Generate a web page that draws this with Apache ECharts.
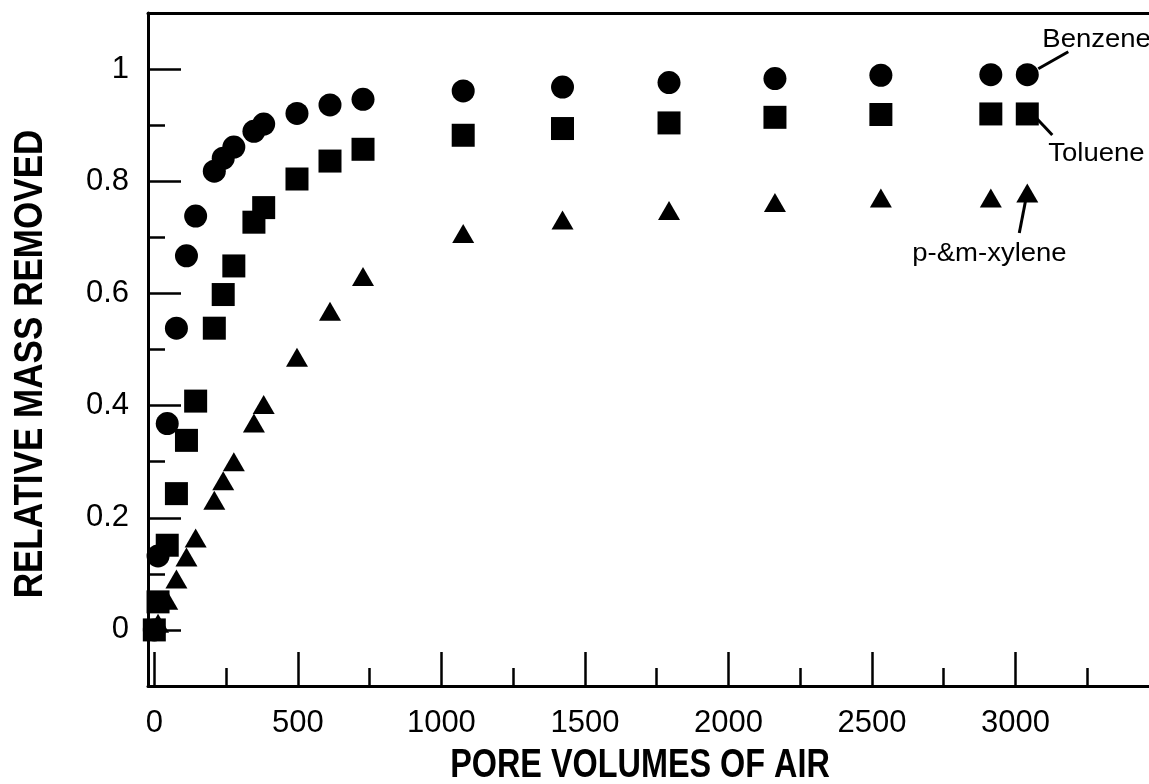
<!DOCTYPE html>
<html><head><meta charset="utf-8">
<script src="https://cdn.jsdelivr.net/npm/echarts@6/dist/echarts.min.js"></script>
<style>html,body{margin:0;padding:0;background:#fff}#c{width:1149px;height:784px}</style>
</head><body><div id="c"></div>
<script>
const poreVolumes = [0,13,45,77,112,144,209,240,277,347,381,497,612,727,1076,1422,1793,2162,2531,2914,3041];
const benzene = [0,0.132,0.368,0.538,0.667,0.738,0.818,0.841,0.861,0.889,0.902,0.921,0.936,0.946,0.961,0.968,0.976,0.983,0.989,0.990,0.990];
const toluene = [0,0.05,0.151,0.243,0.338,0.408,0.538,0.598,0.649,0.727,0.753,0.804,0.836,0.857,0.882,0.894,0.904,0.914,0.919,0.920,0.920];
const xylene = [0,0.012,0.053,0.091,0.130,0.164,0.231,0.266,0.300,0.369,0.402,0.486,0.568,0.630,0.707,0.731,0.748,0.762,0.770,0.770,0.779];
const xMajorTicks = [0,500,1000,1500,2000,2500,3000];
const xMinorTicks = [250,750,1250,1750,2250,2750,3250];
const yMajorTicks = [0,0.2,0.4,0.6,0.8,1];
const yMinorTicks = [0.1,0.3,0.5,0.7,0.9];
const seriesNames = ['Benzene','Toluene','p-&m-xylene'];
const xTitle = 'PORE VOLUMES OF AIR';
const yTitle = 'RELATIVE MASS REMOVED';

const X_MIN = -22, X_MAX = 3465, Y_MIN = -0.1, Y_MAX = 1.1;
const BLACK = '#000';
const FONT = 'Liberation Sans';
const line = {color: BLACK, width: 3};
const tickStyle = {color: BLACK, width: 2.5};
const plain = v => String(v);

function pairs(ys){ return poreVolumes.map((x,i)=>[x, ys[i]]); }

const chart = echarts.init(document.getElementById('c'), null, {renderer:'canvas'});
chart.setOption({
  animation: false,
  backgroundColor: '#fff',
  grid: {left: 148, top: 13, right: 0, bottom: 98, containLabel: false},
  xAxis: [
    {type:'value', min:X_MIN, max:X_MAX, position:'bottom',
     axisLine:{show:true, onZero:false, lineStyle:line},
     axisTick:{show:true, inside:true, length:34, lineStyle:tickStyle, customValues:xMajorTicks},
     axisLabel:{show:true, customValues:xMajorTicks, formatter:plain, fontSize:31, color:BLACK, fontFamily:FONT, margin:22},
     splitLine:{show:false}},
    {type:'value', min:X_MIN, max:X_MAX, position:'bottom',
     axisLine:{show:false, onZero:false},
     axisTick:{show:true, inside:true, length:18, lineStyle:tickStyle, customValues:xMinorTicks},
     axisLabel:{show:false}, splitLine:{show:false}},
    {type:'value', min:X_MIN, max:X_MAX, position:'top',
     axisLine:{show:true, onZero:false, lineStyle:line},
     axisTick:{show:false}, axisLabel:{show:false}, splitLine:{show:false}}
  ],
  yAxis: [
    {type:'value', min:Y_MIN, max:Y_MAX, position:'left',
     axisLine:{show:true, onZero:false, lineStyle:line},
     axisTick:{show:true, inside:true, length:33, lineStyle:tickStyle, customValues:yMajorTicks},
     axisLabel:{show:true, customValues:yMajorTicks, formatter:plain, fontSize:31, color:BLACK, fontFamily:FONT, margin:19},
     splitLine:{show:false}},
    {type:'value', min:Y_MIN, max:Y_MAX, position:'left',
     axisLine:{show:false, onZero:false},
     axisTick:{show:true, inside:true, length:17, lineStyle:tickStyle, customValues:yMinorTicks},
     axisLabel:{show:false}, splitLine:{show:false}}
  ],
  series: [
    {name:seriesNames[0], type:'scatter', symbol:'circle', symbolSize:23, data:pairs(benzene), itemStyle:{color:BLACK, opacity:1}, silent:true},
    {name:seriesNames[1], type:'scatter', symbol:'rect', symbolSize:23, data:pairs(toluene), itemStyle:{color:BLACK, opacity:1}, silent:true},
    {name:seriesNames[2], type:'scatter', symbol:'triangle', symbolSize:[22,19], data:pairs(xylene), itemStyle:{color:BLACK, opacity:1}, silent:true}
  ]
});

// annotations anchored to the last point of each series
const n = poreVolumes.length - 1;
const pB = chart.convertToPixel({xAxisIndex:0, yAxisIndex:0}, [poreVolumes[n], benzene[n]]);
const pT = chart.convertToPixel({xAxisIndex:0, yAxisIndex:0}, [poreVolumes[n], toluene[n]]);
const pX = chart.convertToPixel({xAxisIndex:0, yAxisIndex:0}, [poreVolumes[n], xylene[n]]);
const annFont = '25px ' + FONT;
function leader(p, a, b){
  return {type:'line', shape:{x1:p[0]+a[0], y1:p[1]+a[1], x2:p[0]+b[0], y2:p[1]+b[1]}, style:{stroke:BLACK, lineWidth:3}, silent:true};
}
function label(p, d, txt){
  return {type:'text', x:p[0]+d[0], y:p[1]+d[1], scaleX:1.1, style:{text:txt, font:annFont, fill:BLACK, align:'left', verticalAlign:'middle'}, silent:true};
}
chart.setOption({
  graphic: [
    leader(pB, [11,-6], [41,-23]),
    label(pB, [15,-35], seriesNames[0]),
    leader(pT, [9,4], [25,21]),
    label(pT, [21,40], seriesNames[1]),
    leader(pX, [-8,40], [-1,4]),
    label(pX, [-115,61], seriesNames[2]),
    {type:'text', x:640, y:766, scaleX:0.79, style:{text:xTitle, font:'bold 41px ' + FONT, fill:BLACK, align:'center', verticalAlign:'middle'}, silent:true},
    {type:'text', x:31, y:364, rotation:Math.PI/2, scaleX:0.855, style:{text:yTitle, font:'bold 41px ' + FONT, fill:BLACK, align:'center', verticalAlign:'middle'}, silent:true}
  ]
});
</script>
</body></html>
